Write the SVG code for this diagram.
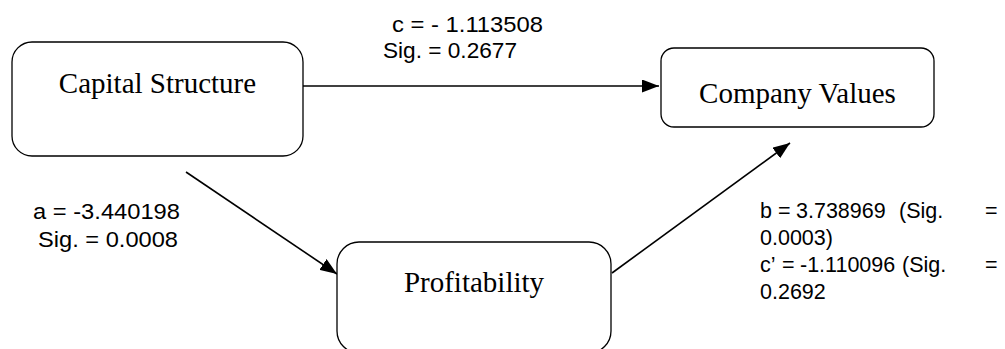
<svg xmlns="http://www.w3.org/2000/svg" width="1005" height="349" viewBox="0 0 1005 349">
<style>
.box{fill:#fff;stroke:#000;stroke-width:1.3}
.nt{font-family:"Liberation Serif","Times New Roman",serif;font-size:29px;fill:#000;text-anchor:middle}
.lb{font-family:"Liberation Sans",Arial,sans-serif;font-size:21.5px;fill:#000}
.lb2{font-family:"Liberation Sans",Arial,sans-serif;font-size:21.5px;fill:#000}
.ln{stroke:#000;stroke-width:1.6;fill:none}
</style>
<defs>
<marker id="ah" viewBox="0 0 17 13" markerWidth="17" markerHeight="13" refX="17" refY="6.5" orient="auto" markerUnits="userSpaceOnUse">
<path d="M0,0 L17,6.5 L0,13 z" fill="#000"/>
</marker>
</defs>
<rect width="1005" height="349" fill="#fff"/>
<g id="connectors">
<line class="ln" x1="297" y1="86" x2="659" y2="86" marker-end="url(#ah)"/>
<line class="ln" x1="186" y1="172" x2="337" y2="274" marker-end="url(#ah)"/>
<line class="ln" x1="612" y1="273" x2="790" y2="143" marker-end="url(#ah)"/>
</g>
<g id="node-capital">
<rect class="box" x="12" y="42" width="291" height="114" rx="20"/>
<text class="nt" x="157.5" y="93">Capital Structure</text>
</g>
<g id="node-company">
<rect class="box" x="661" y="48" width="273" height="79" rx="13"/>
<text class="nt" x="797.5" y="103">Company Values</text>
</g>
<g id="node-profit">
<rect class="box" x="337" y="242" width="274" height="111" rx="22"/>
<text class="nt" x="474" y="292">Profitability</text>
</g>
<g id="labels">
<text class="lb" x="392" y="32" textLength="151" lengthAdjust="spacingAndGlyphs">c = - 1.113508</text>
<text class="lb" x="383" y="58" textLength="134" lengthAdjust="spacingAndGlyphs">Sig. = 0.2677</text>
<text class="lb" x="33" y="219" textLength="147" lengthAdjust="spacingAndGlyphs">a = -3.440198</text>
<text class="lb" x="38" y="247" textLength="140" lengthAdjust="spacingAndGlyphs">Sig. = 0.0008</text>
<text class="lb2" y="218"><tspan x="760">b</tspan><tspan x="778">=</tspan><tspan x="796">3.738969</tspan><tspan x="899">(Sig.</tspan><tspan x="985">=</tspan></text>
<text class="lb2" x="760" y="245">0.0003)</text>
<text class="lb2" y="272"><tspan x="760">c’</tspan><tspan x="782">=</tspan><tspan x="800">-1.110096</tspan><tspan x="902">(Sig.</tspan><tspan x="985">=</tspan></text>
<text class="lb2" x="760" y="299">0.2692</text>
</g>
</svg>
